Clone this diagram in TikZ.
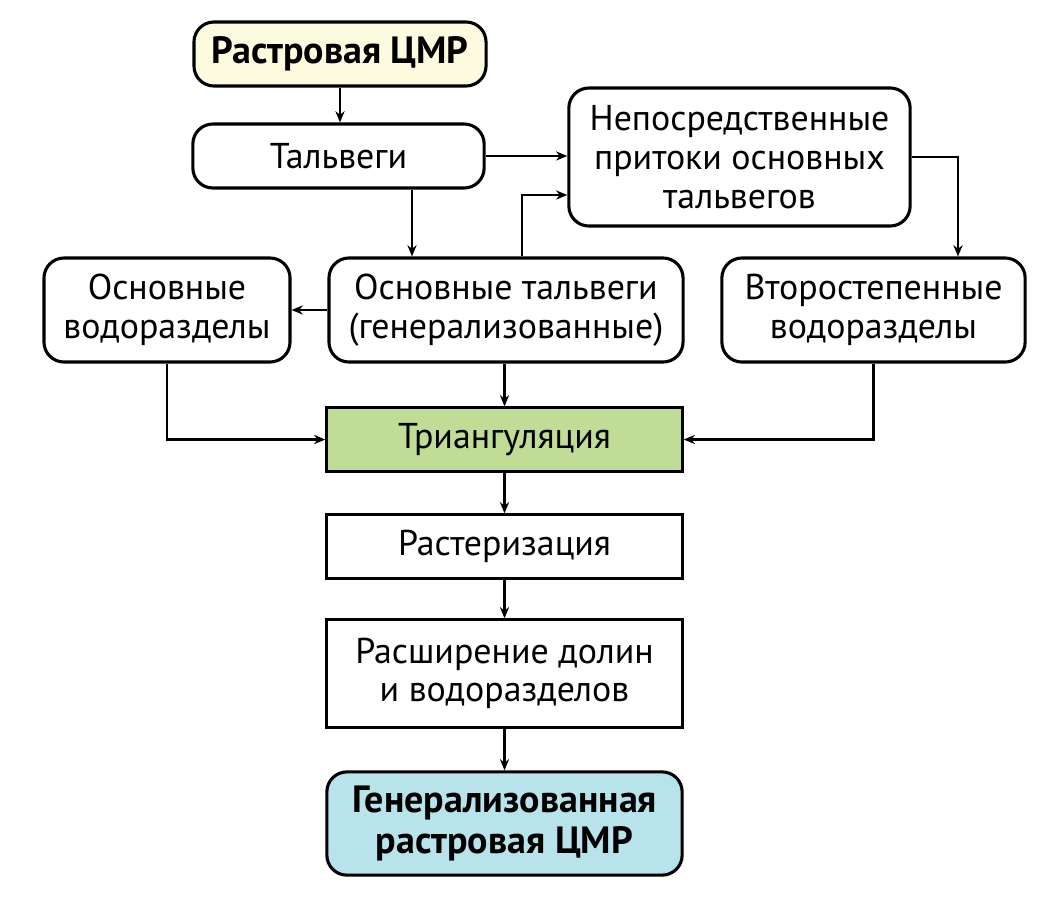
\documentclass[tikz,border=0pt]{standalone}
\usepackage{fontspec}
\setmainfont{PT Sans}
\usepackage{tikz}
\usetikzlibrary{arrows.meta,positioning}
\definecolor{demfill}{HTML}{FCFBE0}
\definecolor{trifill}{HTML}{C0DC96}
\definecolor{genfill}{HTML}{B9E3EA}

\tikzset{
  box/.style={draw,line width=2.2pt,align=center,inner sep=2pt,
    font=\fontsize{25.5}{27.5}\selectfont},
  rbox/.style={box,rounded corners=.5cm},
  boldtext/.style={font=\fontsize{27}{28.5}\selectfont\bfseries},
  arr/.style={line width=1.5pt,-{Stealth[length=8pt,width=6.5pt]}}
}

\begin{document}
\begin{tikzpicture}[x=.025cm,y=-.025cm]
  \useasboundingbox (0,0) rectangle (1062,897);
  % top part
  \node[rbox,fill=demfill,boldtext,
    minimum width=7.3cm,minimum height=1.6cm] (rastr) at (340,54) {Растровая ЦМР};
  \node[rbox,minimum width=7.28cm,minimum height=1.6cm] (talv) at (338.5,156) {Тальвеги};
  \node[rbox,minimum width=8.53cm,minimum height=3.45cm] (pritoki) at (739.5,157)
    {Непосредственные\\притоки основных\\тальвегов};
  % middle row
  \node[rbox,minimum width=6.15cm,minimum height=2.6cm] (osnvod) at (167,310)
    {Основные\\водоразделы};
  \node[rbox,minimum width=8.85cm,minimum height=2.6cm] (osntalv) at (506,310)
    {Основные тальвеги\\(генерализованные)};
  \node[rbox,minimum width=7.58cm,minimum height=2.6cm] (vtorvod) at (873.5,310)
    {Второстепенные\\водоразделы};
  % main column
  \node[box,fill=trifill,minimum width=8.88cm,minimum height=1.58cm] (triang) at (504.5,439.5)
    {Триангуляция};
  \node[box,minimum width=8.88cm,minimum height=1.58cm] (raster) at (504.5,546.5)
    {Растеризация};
  \node[box,minimum width=8.88cm,minimum height=2.68cm] (rassh) at (504.5,673.5)
    {Расширение долин\\и водоразделов};
  \node[rbox,fill=genfill,boldtext,
    minimum width=8.88cm,minimum height=2.58cm] (gen) at (504.5,823.5)
    {Генерализованная\\растровая ЦМР};

  % connectors
  \coordinate (t1) at (412,0);
  \coordinate (t2) at (522,195);
  \coordinate (t3) at (958,0);
  \draw[arr] (rastr.south) -- (rastr.south |- talv.north);
  \draw[arr] (talv.east) -- (talv.east -| pritoki.west);
  \draw[arr] (talv.south -| t1) -- (osntalv.north -| t1);
  \draw[arr] (osntalv.north -| t2) |- (pritoki.west |- t2);
  \draw[arr] (pritoki.east) -| (vtorvod.north -| t3);
  \draw[arr] (osntalv.west) -- (osnvod.east);
  \draw[arr] (osntalv.south -| triang.north) -- (triang.north);
  \draw[arr] (osnvod.south) |- (triang.west);
  \draw[arr] (vtorvod.south) |- (triang.east);
  \draw[arr] (triang) -- (raster);
  \draw[arr] (raster) -- (rassh);
  \draw[arr] (rassh) -- (gen);
\end{tikzpicture}
\end{document}
